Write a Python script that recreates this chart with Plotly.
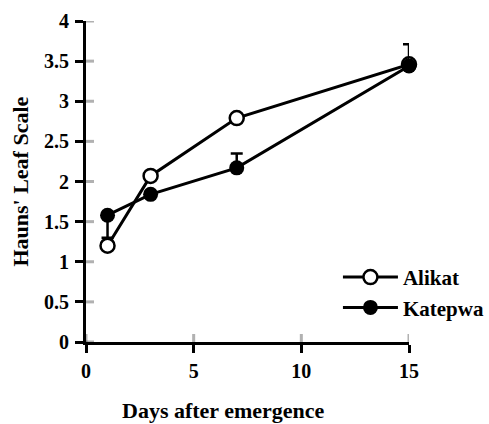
import plotly.graph_objects as go

# Growth stage (Haun's leaf scale) by days after emergence
days = [1, 3, 7, 15]
alikat = [1.2, 2.07, 2.79, 3.46]
katepwa = [1.58, 1.84, 2.17, 3.44]
katepwa_err_plus = [0, 0, 0.18, 0.27]
katepwa_err_minus = [0.28, 0, 0, 0]

x_ticks = [0, 5, 10, 15]
x_tick_text = ["0", "5", "10", "15"]
y_ticks = [0, 0.5, 1, 1.5, 2, 2.5, 3, 3.5, 4]
y_tick_text = ["0", "0.5", "1", "1.5", "2", "2.5", "3", "3.5", "4"]
series_names = ["Alikat", "Katepwa"]

FONT = "Times New Roman, Liberation Serif, serif"
BLACK = "black"
TICK_LEN = 8


def bold(labels):
    return ["<b>%s</b>" % s for s in labels]


fig = go.Figure()

fig.add_trace(go.Scatter(
    x=days, y=alikat, name=bold(series_names)[0], legendgroup="a",
    mode="lines+markers",
    line=dict(color=BLACK, width=3),
    marker=dict(symbol="circle", size=14, color="white",
                line=dict(color=BLACK, width=2.5)),
    cliponaxis=False,
))
fig.add_trace(go.Scatter(
    x=days, y=katepwa, name=bold(series_names)[1], legendgroup="k",
    mode="lines+markers",
    line=dict(color=BLACK, width=3),
    marker=dict(symbol="circle", size=15, color=BLACK),
    error_y=dict(type="data", symmetric=False, array=katepwa_err_plus,
                 arrayminus=katepwa_err_minus, color=BLACK,
                 thickness=2.5, width=6),
    cliponaxis=False,
))

tick_font = dict(family=FONT, size=20, color=BLACK)

# inner halves of the cross-shaped tick marks
shapes = []
for xv in x_ticks:
    shapes.append(dict(type="line", xref="x", yref="y", ysizemode="pixel",
                       yanchor=0, x0=xv, x1=xv, y0=0, y1=TICK_LEN,
                       line=dict(color=BLACK, width=3)))
for yv in y_ticks:
    shapes.append(dict(type="line", xref="x", yref="y", xsizemode="pixel",
                       xanchor=0, y0=yv, y1=yv, x0=0, x1=TICK_LEN,
                       line=dict(color=BLACK, width=3)))

fig.update_layout(
    template="simple_white",
    width=489, height=424,
    margin=dict(l=86, r=80, t=21, b=82, autoexpand=False),
    paper_bgcolor="white", plot_bgcolor="white",
    font=dict(family=FONT, color=BLACK, size=20),
    xaxis=dict(range=[0, 15], tickmode="array", tickvals=x_ticks,
               ticktext=bold(x_tick_text), showgrid=False, zeroline=False,
               showline=True, linecolor=BLACK, linewidth=3,
               ticks="outside", ticklen=TICK_LEN, tickwidth=3,
               tickcolor=BLACK, tickfont=tick_font, ticklabelstandoff=1),
    yaxis=dict(range=[0, 4], tickmode="array", tickvals=y_ticks,
               ticktext=bold(y_tick_text), showgrid=False, zeroline=False,
               showline=True, linecolor=BLACK, linewidth=3,
               ticks="outside", ticklen=TICK_LEN, tickwidth=3,
               tickcolor=BLACK, tickfont=tick_font, ticklabelstandoff=2),
    shapes=shapes,
    showlegend=True,
    legend=dict(x=0.78, y=0.265, xanchor="left", yanchor="top",
                font=dict(family=FONT, size=21, color=BLACK),
                bgcolor="rgba(0,0,0,0)", tracegroupgap=0,
                traceorder="grouped", itemwidth=55),
    annotations=[
        dict(text="<b>Days after emergence</b>", xref="paper", yref="paper",
             x=0.427, y=-0.212, xanchor="center", yanchor="middle",
             showarrow=False,
             font=dict(family=FONT, size=22, color=BLACK)),
        dict(text="<b>Hauns' Leaf Scale</b>", xref="paper", yref="paper",
             x=-0.204, y=0.5, xanchor="center", yanchor="middle",
             textangle=-90, showarrow=False,
             font=dict(family=FONT, size=22, color=BLACK)),
    ],
)

fig.write_html("out.html")
